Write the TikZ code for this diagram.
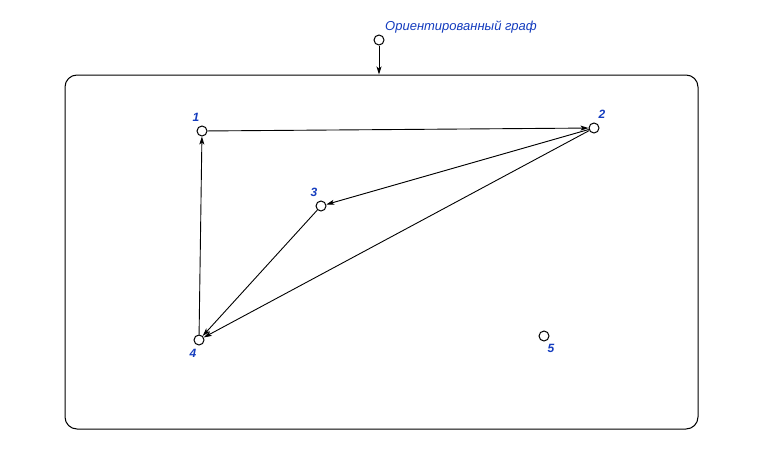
\documentclass[tikz,border=0pt]{standalone}
\usepackage{fontspec}
\setmainfont{Liberation Sans}
\usetikzlibrary{arrows.meta}
\definecolor{labelblue}{RGB}{20,60,190}
\begin{document}
\begin{tikzpicture}[
		x=1pt, y=-1pt,
		vertex/.style={draw, circle, line width=1pt, inner sep=0pt, minimum size=10pt, fill=white},
		num/.style={text=labelblue, font=\fontsize{12}{14}\selectfont\bfseries\itshape, inner sep=0pt},
		edge/.style={line width=0.9pt, -{Stealth[length=8pt, width=5pt, inset=2pt]}}
		]
		
		\useasboundingbox (0,0) rectangle (766,471);
		
		% frame
		\node[draw, line width=1pt, rounded corners=12pt, minimum width=633pt, minimum height=354pt, inner sep=0pt] (frame) at (381.5,252) {};
		
		% title
		\node[vertex] (top) at (379,40) {};
		\node[anchor=west, text=labelblue, font=\fontsize{13}{15}\selectfont\itshape, inner sep=0pt] (title) at (385,27) {Ориентированный граф};
		\draw[edge] (top) -- (frame.north -| top);
		
		% vertices
		\node[vertex] (v1) at (202,131) {};
		\node[vertex] (v2) at (594,128) {};
		\node[vertex] (v3) at (321,206) {};
		\node[vertex] (v4) at (199,340) {};
		\node[vertex] (v5) at (544,336) {};
		
		\node[num] (l1) at (196,117) {1};
		\node[num] (l2) at (602,114) {2};
		\node[num] (l3) at (314,192) {3};
		\node[num] (l4) at (193,353) {4};
		\node[num] (l5) at (551,348) {5};
		
		% arcs
		\draw[edge] (v1) -- (v2);
		\draw[edge] (v2) -- (v3);
		\draw[edge] (v2) -- (v4);
		\draw[edge] (v3) -- (v4);
		\draw[edge] (v4) -- (v1);
		
	\end{tikzpicture}
\end{document}
